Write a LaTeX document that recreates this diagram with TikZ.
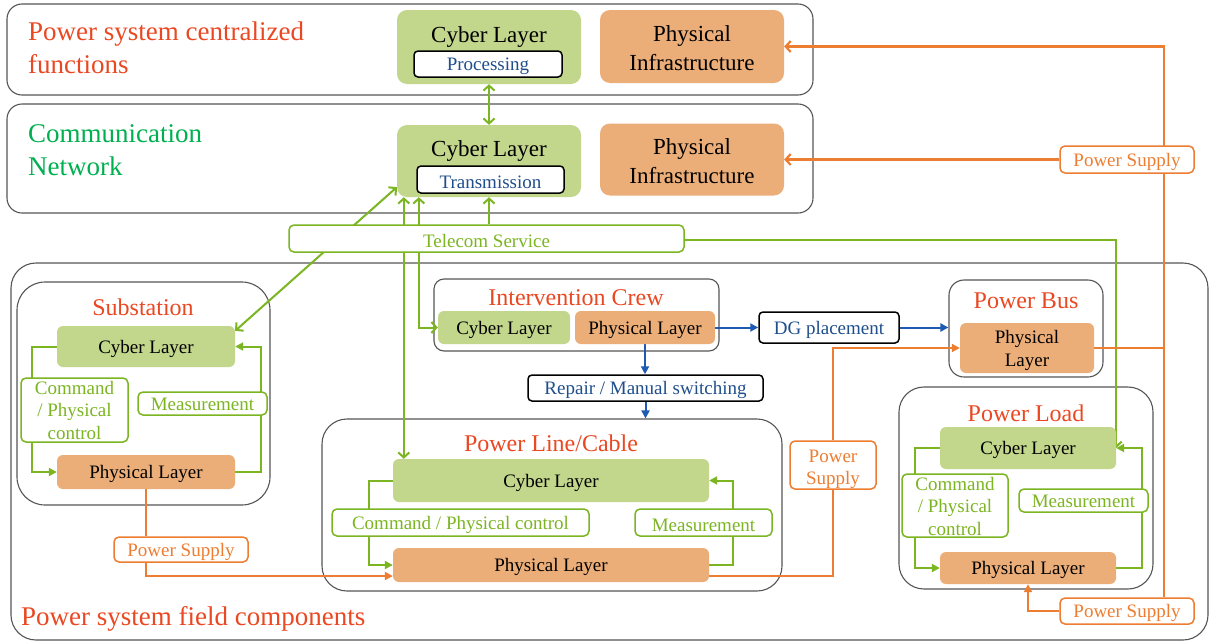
\documentclass[tikz,border=0pt]{standalone}
\usepackage{fontspec}
\setmainfont{Liberation Serif}
\usetikzlibrary{arrows.meta,calc}
\definecolor{cybf}{RGB}{194,214,140}
\definecolor{phyf}{RGB}{236,174,121}
\definecolor{gline}{RGB}{124,181,34}
\definecolor{commg}{RGB}{0,176,80}
\definecolor{oline}{RGB}{237,125,49}
\definecolor{redt}{RGB}{234,72,34}
\definecolor{bluet}{RGB}{31,78,140}
\definecolor{bluea}{RGB}{30,90,180}
\definecolor{framec}{RGB}{85,85,85}
\newcommand\fTitle{\fontsize{27}{33}\selectfont}
\newcommand\fHead{\fontsize{24}{28}\selectfont}
\newcommand\fBig{\fontsize{23}{29}\selectfont}
\newcommand\fNorm{\fontsize{19}{22.5}\selectfont}
\newcommand\lo[1][18pt]{\rule{0pt}{#1}}
\pgfdeclarelayer{back}
\pgfdeclarelayer{mid}
\pgfsetlayers{back,mid,main}
\tikzset{
  gv/.tip={Straight Barb[length=5pt,width=11pt]},
  ft/.tip={Triangle[length=8pt,width=8pt]},
  sz/.style 2 args={minimum width=#1pt, minimum height=#2pt},
  frame/.style={draw=framec, line width=1.1pt, rounded corners=#1, inner sep=0pt},
  frame/.default=20pt,
  cyb/.style={fill=cybf, rounded corners=6pt, inner sep=0pt, align=center, font=\fNorm},
  phy/.style={fill=phyf, rounded corners=6pt, inner sep=0pt, align=center, font=\fNorm},
  glab/.style={draw=gline, fill=white, line width=1.5pt, rounded corners=5pt, inner sep=0pt, align=center, text=gline, font=\fNorm},
  olab/.style={draw=oline, fill=white, line width=1.5pt, rounded corners=5pt, inner sep=0pt, align=center, text=oline, font=\fNorm},
  blab/.style={draw=black, fill=white, line width=1.5pt, rounded corners=4pt, inner sep=0pt, align=center, text=bluet, font=\fNorm},
  head/.style={inner sep=0pt, text=redt, font=\fHead},
  gl/.style={draw=gline, line width=2pt},
  ol/.style={draw=oline, line width=2.2pt},
  bl/.style={draw=bluea, line width=2pt, -ft},
}
\begin{document}
\begin{tikzpicture}[x=1pt,y=-1pt]
\useasboundingbox (0,0) rectangle (1210,643);
\begin{pgfonlayer}{back}
\fill[white] (0,0) rectangle (1210,643);
\node[frame=15pt, sz={806}{91}] (f1) at (410,49.5) {};
\node[frame=15pt, sz={806}{109}] (f2) at (410,158.5) {};
\node[frame=25pt, sz={1197}{377}] (ff) at (609.5,451.5) {};
\node[frame=28pt, sz={253}{223}] (sF) at (143.5,393.5) {};
\node[frame=10pt, sz={285}{72}] (icF) at (576.5,315) {};
\node[frame=15pt, sz={154}{97}] (pbF) at (1026,328.5) {};
\node[frame=25pt, sz={460}{172}] (plcF) at (552,505) {};
\node[frame=25pt, sz={254}{202}] (plF) at (1026,488) {};
\end{pgfonlayer}
% titles
\node[anchor=west, align=left, inner sep=0pt, text=redt, font=\fTitle] (t1) at (28,47.5) {Power system centralized\\functions};
\node[anchor=west, align=left, inner sep=0pt, text=commg, font=\fTitle] (t2) at (28,150) {Communication\\Network};
\node[anchor=west, inner sep=0pt, text=redt, font=\fTitle] (t3) at (21,619) {Power system field components};
% top rows
\node[cyb, sz={184}{74}, rounded corners=10pt] (cyb1) at (489,47) {};
\node[inner sep=0pt, font=\fBig] (cyb1t) at (489,37) {Cyber Layer};
\node[blab, sz={148}{26}] (proc) at (488,64) {\lo Processing};
\node[phy, sz={184}{73}, font=\fBig, rounded corners=10pt] (pi1) at (692,46.5) {\lo[20pt]Physical\\Infrastructure};
\node[cyb, sz={184}{72}, rounded corners=10pt] (cyb2) at (489,161) {};
\node[inner sep=0pt, font=\fBig] (cyb2t) at (489,151) {Cyber Layer};
\node[blab, sz={147}{27}] (trans) at (490.5,179.5) {\lo Transmission};
\node[phy, sz={184}{72}, font=\fBig, rounded corners=10pt] (pi2) at (692,159.5) {\lo[20pt]Physical\\Infrastructure};
\node[glab, sz={395}{27}] (tel) at (486.5,238.5) {\lo Telecom Service};
% substation
\node[head] (sT) at (143,307) {Substation};
\node[cyb, sz={178}{41}] (sCyb) at (146,346.5) {\lo Cyber Layer};
\node[phy, sz={178}{34}] (sPhy) at (146,472) {\lo Physical Layer};
\node[glab, sz={107}{64}] (sCmd) at (74.5,410) {\lo[14pt]Command\\/ Physical\\control};
\node[glab, sz={129}{23}] (sMeas) at (202.5,403.5) {\lo[15pt]Measurement};
\node[olab, sz={134}{25}] (sPS) at (181,549.5) {\lo Power Supply};
% intervention crew
\node[head] (icT) at (576,298) {Intervention Crew};
\node[cyb, sz={132}{33}] (icCyb) at (504,327.5) {\lo Cyber Layer};
\node[phy, sz={140}{33}] (icPhy) at (645,327.5) {\lo Physical Layer};
\node[blab, sz={235}{26}] (rep) at (645.5,388) {\lo Repair / Manual switching};
\node[blab, sz={140}{31}] (dg) at (829,327.5) {\lo DG placement};
% power bus
\node[head] (pbT) at (1026,301) {Power Bus};
\node[phy, sz={134}{50}] (pbPhy) at (1027,348) {\lo Physical\\Layer};
% power line
\node[head] (plcT) at (551,443) {Power Line/Cable};
\node[cyb, sz={316}{43}] (plcCyb) at (551,480.5) {\lo Cyber Layer};
\node[phy, sz={316}{34}] (plcPhy) at (551,565) {\lo Physical Layer};
\node[glab, sz={257}{27}] (plcCmd) at (460.5,522.5) {\lo Command / Physical control};
\node[glab, sz={137}{27}] (plcMeas) at (703.5,522.5) {\lo Measurement};
\node[olab, sz={86}{48}] (mPS) at (833,465) {\lo[21pt]Power\\Supply};
% power load
\node[head] (plT) at (1026,413) {Power Load};
\node[cyb, sz={176}{42}] (plCyb) at (1028,448) {\lo Cyber Layer};
\node[phy, sz={176}{32}] (plPhy) at (1028,568) {\lo Physical Layer};
\node[glab, sz={106}{63}] (plCmd) at (955,505.5) {\lo[15pt]Command\\/ Physical\\control};
\node[glab, sz={129}{23}] (plMeas) at (1083.5,500.5) {\lo[15pt]Measurement};
% power supply labels right
\node[olab, sz={134}{27}] (psR) at (1127,159.5) {\lo Power Supply};
\node[olab, sz={134}{26}] (psB) at (1127,611) {\lo Power Supply};
\coordinate (j) at (1164,348);
\begin{pgfonlayer}{mid}
% green communication links
\draw[gl, gv-gv] (cyb1) -- (cyb2);
\draw[gl, gv-gv] ([yshift=10pt]cyb2.south west) -- ([yshift=-5pt]sCyb.north east);
\draw[gl, gv-gv] ([xshift=7pt]cyb2.south west) -- ([xshift=11pt]plcCyb.north west);
\draw[gl, gv-gv] ([xshift=22pt]cyb2.south west) |- (icCyb.west);
\draw[gl, -gv] (cyb2.south |- tel.north) -- (cyb2.south);
\draw[gl, -gv] ([yshift=-1.5pt]tel.east) -| (plCyb.east);
% loops
\draw[gl, -ft] (sCyb.west) -| ([xshift=-25pt]sPhy.west) -- (sPhy.west);
\draw[gl, -ft] (sPhy.east) -| ([xshift=26pt]sCyb.east) -- (sCyb.east);
\draw[gl, -ft] (plcCyb.west) -| ([xshift=-24pt]plcPhy.west) -- (plcPhy.west);
\draw[gl, -ft] (plcPhy.east) -| ([xshift=24pt]plcCyb.east) -- (plcCyb.east);
\draw[gl, -ft] (plCyb.west) -| ([xshift=-25pt]plPhy.west) -- (plPhy.west);
\draw[gl, -ft] (plPhy.east) -| ([xshift=26pt]plCyb.east) -- (plCyb.east);
% blue
\draw[bl] (icPhy.south) -- (icPhy.south |- rep.north);
\draw[bl] (rep.south) -- (rep.south |- plcF.north);
\draw[bl] (icPhy.east) -- (dg.west);
\draw[bl] (dg.east) -- (dg.east -| pbF.west);
% orange
\draw[ol] (sPhy.south) -- (sPhy.south |- sPS.north);
\draw[ol, -ft] (sPhy.south |- sPS.south) |- ([yshift=-11pt]plcPhy.west);
\draw[ol] ([yshift=-11pt]plcPhy.east) -| (mPS.south);
\draw[ol, -ft] (mPS.north) |- (pbPhy.west);
\draw[ol] (pbPhy.east) -- (j);
\draw[ol, -gv] (j) |- (pi1.east);
\draw[ol, -gv] (psR.west) -- (psR.west -| pi2.east);
\draw[ol] (j) -- (j |- psB.north);
\draw[ol, -ft] (psB.west) -| (plPhy.south);
\end{pgfonlayer}
\end{tikzpicture}
\end{document}
